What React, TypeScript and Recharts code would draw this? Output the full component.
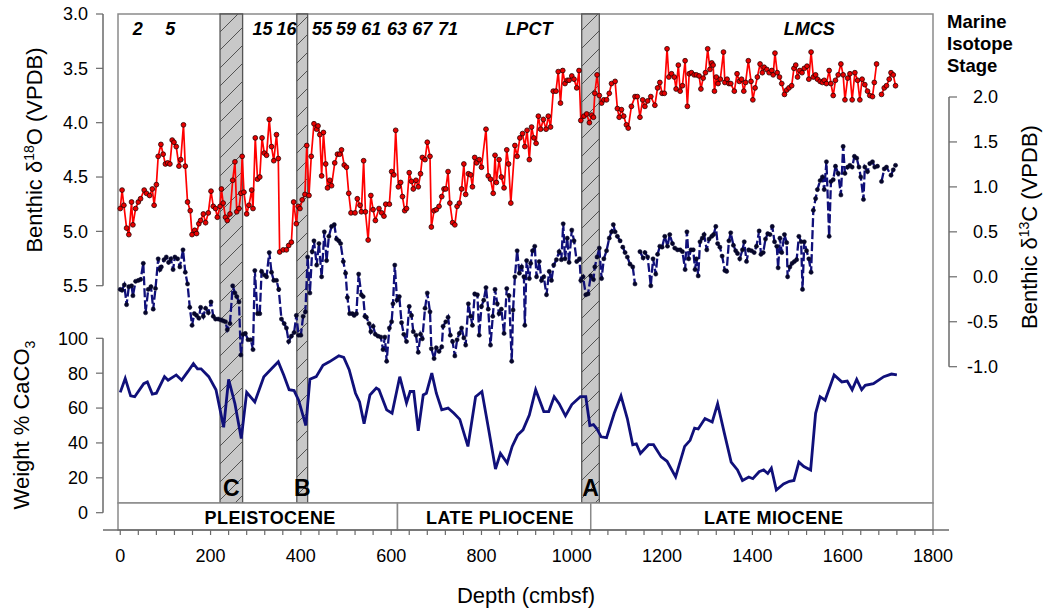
import React from 'react';
import { ComposedChart, Line, XAxis, YAxis, ReferenceArea, Scatter, Label } from 'recharts';

const FONT = '"Liberation Sans", Arial, Helvetica, sans-serif';
const W = 1043;
const H = 613;

// Benthic d18O: [depth cmbsf, value]
const d18O: [number, number | null][] = [
  [0,4.79],[4,4.62],[8,4.76],[14,4.97],[19,5.03],[25,4.73],[28,4.94],[34,4.79],[40,4.73],[45,4.70],[53,4.62],[58,4.65],[65,4.67],[71,4.61],[75,4.76],[80,4.57],[84,4.31],[90,4.20],[95,4.29],[100,4.38],[105,4.37],[110,4.38],[115,4.16],[119,4.18],[124,4.22],[130,4.40],[134,4.34],[140,4.02],[144,4.40],[149,4.73],[155,4.81],[159,5.03],[165,4.99],[169,5.02],[174,4.93],[178,4.90],[184,4.84],[189,4.92],[195,4.83],[201,4.63],[206,4.77],[211,4.79],[215,4.87],[221,4.77],[224,4.61],[228,4.74],[233,4.87],[237,4.90],[243,4.84],[249,4.53],[254,4.36],[258,4.82],[263,4.79],[267,4.65],[270,4.31],[274,4.64],[280,4.84],[285,4.76],[291,4.62],[294,4.79],[299,4.14],[304,4.52],[309,4.50],[314,4.14],[319,4.28],[324,4.30],[330,3.97],[335,4.22],[340,4.35],[346,4.11],[350,4.33],[353,5.19],[361,5.17],[368,5.17],[373,5.13],[379,5.10],[384,4.73],[390,4.93],[394,4.77],[398,4.79],[403,4.71],[409,4.66],[413,4.21],[418,4.67],[423,4.31],[429,4.01],[435,4.06],[438,4.03],[442,4.11],[446,4.49],[450,4.09],[455,4.38],[459,4.60],[464,4.53],[468,4.58],[475,4.37],[481,4.29],[486,4.29],[490,4.25],[496,4.39],[501,4.41],[506,4.65],[511,4.83],[520,4.83],[525,4.70],[531,4.76],[534,4.82],[539,4.35],[543,4.82],[549,5.08],[555,4.67],[560,4.80],[565,4.90],[573,4.79],[579,4.83],[584,4.86],[588,4.75],[596,4.75],[601,4.45],[606,4.48],[610,4.07],[616,4.59],[621,4.55],[625,4.68],[630,4.81],[634,4.79],[640,4.46],[645,4.54],[649,4.61],[655,4.53],[660,4.59],[665,4.47],[669,4.32],[675,4.34],[680,4.18],[686,4.31],[689,4.96],[695,4.81],[700,4.80],[706,4.77],[712,4.68],[717,4.61],[721,4.61],[726,4.45],[730,4.74],[736,4.92],[741,4.94],[746,4.77],[751,4.74],[756,4.61],[761,4.38],[765,4.66],[771,4.47],[776,4.48],[780,4.59],[785,4.32],[789,4.37],[795,4.34],[800,4.41],[810,4.06],[815,4.49],[820,4.52],[826,4.65],[830,4.30],[833,4.55],[839,4.34],[844,4.50],[850,4.60],[856,4.25],[860,4.38],[865,4.74],[874,4.21],[879,4.31],[885,4.14],[891,4.10],[896,4.22],[901,4.07],[906,4.34],[911,4.04],[916,4.14],[921,4.19],[926,3.94],[931,4.06],[937,3.97],[943,4.06],[948,3.94],[953,4.04],[959,3.71],[965,3.71],[970,3.53],[975,3.82],[980,3.52],[985,3.64],[990,3.61],[994,3.61],[1000,3.57],[1005,3.60],[1011,3.68],[1016,3.52],[1020,3.98],[1027,3.94],[1033,3.92],[1039,4.00],[1044,3.93],[1048,3.95],[1051,3.73],[1056,3.56],[1061,3.75],[1066,3.82],[1071,3.79],[1077,3.79],[1083,3.73],[1088,3.64],[1096,3.62],[1101,3.87],[1105,3.95],[1110,3.88],[1115,3.94],[1121,4.02],[1125,4.05],[1132,3.85],[1140,3.76],[1145,3.76],[1151,3.95],[1157,3.79],[1162,3.85],[1168,3.80],[1175,3.76],[1184,3.84],[1190,3.68],[1195,3.63],[1200,3.73],[1205,3.73],[1211,3.32],[1215,3.58],[1221,3.55],[1227,3.58],[1231,3.69],[1236,3.47],[1240,3.71],[1245,3.66],[1251,3.43],[1256,3.85],[1260,3.55],[1265,3.54],[1271,3.56],[1276,3.56],[1282,3.57],[1286,3.69],[1291,3.59],[1296,3.54],[1301,3.32],[1306,3.51],[1310,3.45],[1313,3.47],[1316,3.71],[1320,3.58],[1324,3.64],[1329,3.60],[1336,3.35],[1339,3.63],[1344,3.60],[1348,3.64],[1352,3.64],[1360,3.71],[1366,3.55],[1371,3.62],[1376,3.60],[1381,3.71],[1385,3.63],[1391,3.43],[1397,3.62],[1401,3.79],[1406,3.68],[1411,3.58],[1417,3.46],[1422,3.54],[1426,3.49],[1432,3.51],[1437,3.54],[1443,3.52],[1446,3.56],[1450,3.36],[1455,3.54],[1460,3.58],[1465,3.64],[1471,3.74],[1476,3.70],[1481,3.68],[1487,3.66],[1492,3.50],[1496,3.47],[1500,3.58],[1505,3.52],[1510,3.54],[1515,3.50],[1521,3.48],[1525,3.60],[1530,3.35],[1535,3.58],[1540,3.56],[1544,3.60],[1550,3.62],[1555,3.63],[1559,3.61],[1564,3.64],[1570,3.52],[1574,3.64],[1579,3.75],[1584,3.61],[1590,3.56],[1596,3.46],[1601,3.56],[1605,3.79],[1611,3.59],[1616,3.55],[1621,3.79],[1627,3.54],[1633,3.61],[1638,3.79],[1643,3.60],[1649,3.65],[1655,3.71],[1660,3.75],[1666,3.76],[1670,3.63],[1675,3.46],[1680,null],[1686,3.74],[1692,3.68],[1697,3.66],[1703,3.60],[1707,3.54],[1712,3.56],[1717,3.66],
];

// Benthic d13C: [depth cmbsf, value]
const d13C: [number, number | null][] = [
  [0,-0.14],[4,-0.15],[9,-0.09],[14,-0.31],[19,-0.11],[25,-0.10],[28,-0.21],[34,-0.05],[40,-0.04],[45,-0.03],[51,0.15],[56,-0.40],[62,-0.14],[68,-0.11],[73,-0.36],[78,-0.13],[84,0.20],[88,0.08],[91,0.11],[97,0.19],[102,0.22],[107,0.16],[112,0.20],[117,0.08],[121,0.22],[127,0.20],[132,0.11],[139,0.30],[144,0.05],[149,-0.08],[154,-0.34],[159,-0.54],[164,-0.41],[169,-0.43],[174,-0.46],[178,-0.34],[184,-0.44],[189,-0.35],[195,-0.40],[201,-0.28],[206,-0.44],[211,-0.47],[217,-0.47],[223,-0.48],[228,-0.49],[233,-0.50],[237,-0.59],[243,-0.52],[249,-0.10],[254,-0.18],[258,-0.22],[263,-0.28],[267,-0.87],[272,-0.64],[277,-0.63],[283,-0.70],[289,-0.70],[294,-0.81],[298,0.07],[304,-0.41],[309,-0.41],[313,0.06],[319,0.02],[324,0.00],[330,0.27],[335,0.05],[340,-0.04],[346,-0.04],[351,-0.14],[357,-0.47],[363,-0.52],[368,-0.57],[373,-0.72],[379,-0.66],[385,-0.62],[390,-0.43],[395,-0.65],[400,-0.65],[405,-0.44],[410,-0.39],[415,0.22],[420,-0.18],[425,0.28],[429,0.40],[435,0.13],[440,0.37],[446,0.00],[452,0.50],[457,0.18],[462,0.45],[468,0.56],[474,0.58],[479,0.42],[484,0.40],[488,0.37],[494,0.17],[499,0.04],[503,-0.23],[508,-0.41],[514,-0.41],[518,-0.43],[523,-0.41],[528,0.03],[534,-0.20],[538,-0.22],[542,-0.44],[545,-0.45],[551,-0.52],[555,-0.61],[560,-0.55],[565,-0.64],[571,-0.66],[577,-0.67],[582,-0.81],[586,-0.67],[590,-0.94],[596,-0.57],[601,-0.50],[604,-0.30],[608,0.13],[613,-0.26],[618,-0.22],[623,-0.51],[628,-0.64],[634,-0.72],[640,-0.33],[645,-0.43],[649,-0.61],[655,-0.65],[660,-0.84],[665,-0.64],[669,-0.69],[675,-0.35],[680,-0.18],[686,-0.39],[689,-0.80],[695,-0.91],[700,-0.79],[706,-0.83],[712,-0.78],[715,-0.55],[721,-0.50],[726,-0.45],[731,-0.65],[736,-0.72],[741,-0.88],[746,-0.70],[751,-0.63],[756,-0.57],[761,-0.68],[765,-0.76],[771,-0.30],[776,-0.44],[780,-0.54],[785,-0.19],[791,-0.20],[795,-0.65],[800,-0.33],[805,-0.26],[810,-0.12],[815,-0.36],[820,-0.76],[825,-0.44],[830,-0.14],[835,-0.30],[839,-0.41],[844,-0.36],[850,-0.63],[856,-0.13],[861,-0.21],[867,-0.94],[870,-0.37],[874,0.00],[879,0.29],[884,0.04],[889,0.11],[894,0.00],[896,-0.54],[900,0.18],[906,-0.02],[909,0.15],[913,0.29],[918,0.34],[922,0.00],[928,0.17],[933,-0.04],[938,0.00],[944,-0.20],[950,0.06],[955,-0.04],[960,0.13],[966,0.19],[972,0.28],[977,0.19],[981,0.59],[985,0.20],[990,0.43],[994,0.16],[1000,0.52],[1005,0.40],[1011,0.17],[1017,0.20],[1020,-0.04],[1025,0.00],[1031,-0.20],[1036,-0.19],[1042,0.01],[1048,-0.03],[1051,0.11],[1056,0.22],[1061,0.32],[1066,-0.02],[1071,0.20],[1077,0.29],[1083,0.43],[1088,0.50],[1092,0.58],[1096,0.50],[1101,0.45],[1107,0.40],[1113,0.33],[1118,0.27],[1123,0.22],[1129,0.14],[1135,0.11],[1140,-0.08],[1145,null],[1151,0.28],[1158,0.21],[1162,0.27],[1168,0.22],[1175,-0.10],[1180,0.20],[1186,0.03],[1190,0.25],[1195,0.34],[1200,0.33],[1206,0.45],[1212,0.34],[1217,0.47],[1223,0.37],[1228,0.32],[1234,0.30],[1240,0.30],[1245,0.28],[1251,0.08],[1255,0.50],[1259,0.20],[1264,0.30],[1269,0.30],[1273,0.08],[1276,0.20],[1280,0.01],[1284,0.39],[1289,0.43],[1293,0.47],[1299,0.30],[1304,0.42],[1310,0.45],[1314,0.47],[1319,0.56],[1323,0.37],[1328,0.33],[1333,0.23],[1339,0.07],[1343,0.06],[1348,0.40],[1352,0.49],[1358,0.35],[1363,0.29],[1367,0.26],[1372,0.20],[1378,0.30],[1382,0.39],[1387,0.17],[1392,0.30],[1398,0.29],[1404,0.27],[1409,0.34],[1415,0.51],[1419,0.25],[1424,0.27],[1429,0.42],[1434,0.48],[1439,0.47],[1444,0.56],[1449,0.39],[1454,0.34],[1457,0.10],[1461,0.43],[1465,0.27],[1471,0.47],[1476,0.38],[1478,0.00],[1483,0.11],[1488,0.15],[1493,0.17],[1498,0.19],[1503,0.45],[1508,0.39],[1511,-0.14],[1515,0.39],[1520,0.29],[1525,0.20],[1530,0.05],[1535,0.74],[1540,0.87],[1544,0.97],[1550,1.07],[1555,1.11],[1559,0.97],[1564,1.28],[1570,0.45],[1574,1.06],[1579,1.08],[1584,1.23],[1590,1.15],[1596,0.91],[1601,1.45],[1605,1.15],[1611,1.22],[1616,1.24],[1621,1.22],[1626,1.34],[1631,1.32],[1636,1.22],[1640,1.11],[1646,0.86],[1649,1.22],[1655,1.17],[1660,1.26],[1666,1.28],[1671,1.22],[1677,1.23],[1681,null],[1686,1.06],[1692,1.20],[1697,1.22],[1707,1.13],[1712,1.19],[1717,1.24],
];

// Weight % CaCO3: [depth cmbsf, value]
const caco3: [number, number][] = [
  [0,69],[11,77],[23,67],[32,66.5],[52,74],[60,75],[71,68],[80,68.5],[98,78],[106,76],[124,79],[136,76],[150,81],[162,85.5],[171,82.5],[179,82.5],[196,78],[212,70.5],[229,49],[240,76.5],[254,62.5],[268,42.5],[280,69],[298,63.5],[318,78],[335,82.5],[350,86.5],[362,79],[374,70.5],[385,70],[395,64.5],[411,50],[420,76.5],[434,78],[449,84.5],[463,86.5],[484,90],[495,89],[507,82],[521,68.5],[530,63.5],[540,51],[553,67.5],[567,71.5],[573,70.5],[590,59],[602,57],[619,78],[634,63],[642,69.5],[650,69.5],[660,47],[671,67.5],[678,68.5],[690,80],[700,68.5],[712,59],[726,60],[739,57],[752,53.5],[770,38],[787,66.5],[801,69.5],[816,47.5],[831,25],[842,34],[857,28.5],[868,38],[880,44.5],[892,47.5],[906,56],[920,70.5],[938,58],[949,58],[961,66.5],[972,62.5],[986,55.5],[1000,62],[1019,66.5],[1031,66.5],[1040,50],[1048,50.5],[1056,48],[1065,43.5],[1077,43],[1094,57],[1109,67],[1123,54],[1135,39],[1143,39.5],[1152,34],[1170,39],[1181,39],[1198,32],[1211,29.5],[1230,20.5],[1250,38],[1262,41.5],[1272,48.5],[1280,48],[1295,54],[1311,52],[1323,62.5],[1338,45.5],[1353,29],[1367,24.5],[1378,18.5],[1392,20.5],[1401,19.5],[1415,23.5],[1425,24.5],[1434,22.5],[1442,25.5],[1453,13],[1469,16.5],[1482,18],[1492,18.5],[1503,29],[1514,26.5],[1529,24.5],[1540,57],[1550,66.5],[1561,64.5],[1581,79],[1598,75],[1610,75.5],[1621,70.5],[1631,76.5],[1642,70.5],[1650,73],[1668,74],[1691,78],[1708,79.5],[1720,79],
];

const misLabels = [
  { d: 39, label: '2' }, { d: 111, label: '5' }, { d: 315, label: '15' }, { d: 368, label: '16' },
  { d: 447, label: '55' }, { d: 500, label: '59' }, { d: 556, label: '61' }, { d: 613, label: '63' },
  { d: 669, label: '67' }, { d: 726, label: '71' }, { d: 905, label: 'LPCT' }, { d: 1526, label: 'LMCS' },
];
const bands = [
  { from: 221, to: 271, label: 'C' },
  { from: 391, to: 415, label: 'B' },
  { from: 1022, to: 1061, label: 'A' },
];
const epochs = [
  { from: -5, to: 614, labelAt: 332, label: 'PLEISTOCENE' },
  { from: 614, to: 1042, labelAt: 841, label: 'LATE PLIOCENE' },
  { from: 1042, to: 1800, labelAt: 1447, label: 'LATE MIOCENE' },
];
const depthLabelTicks = [0, 200, 400, 600, 800, 1000, 1200, 1400, 1600, 1800];
const depthMinorStep = 40;
const depthTicks = Array.from({ length: 1800 / depthMinorStep + 1 }, (_, i) => i * depthMinorStep);
const o18Ticks = [3.0, 3.5, 4.0, 4.5, 5.0, 5.5];
const c13Ticks = [-1.0, -0.5, 0.0, 0.5, 1.0, 1.5, 2.0];
const caTicks = [0, 20, 40, 60, 80, 100];

const o18Data = d18O.map(([d, v]) => ({ d, v }));
const c13Data = d13C.map(([d, v]) => ({ d, v }));
const caData = caco3.map(([d, v]) => ({ d, v }));
const misData = misLabels.map((m) => ({ ...m, y: 1 }));
const epochData = epochs.map((e) => ({ d: e.labelAt, y: 0.5, label: e.label }));

const xDomain: [number, number] = [-5, 1800];
const xPad = { left: 15, right: 16 };
const AXIS = '#6a6a6a';
const FRAME = '#8a8a8a';
const NAVY = '#10107a';

const layer: React.CSSProperties = { position: 'absolute', left: 0, top: 0 };

const LeftTitle18 = () => (
  <text x={42} y={150} transform="rotate(-90 42 150)" textAnchor="middle" fontSize={22} fontFamily={FONT} fill="#000">
    Benthic δ<tspan dy={-8} fontSize={14}>18</tspan><tspan dy={8}>O (VPDB)</tspan>
  </text>
);
const LeftTitleCa = () => (
  <text x={29} y={425} transform="rotate(-90 29 425)" textAnchor="middle" fontSize={22} fontFamily={FONT} fill="#000">
    Weight % CaCO<tspan dy={6} fontSize={14}>3</tspan>
  </text>
);
const RightTitles = () => (
  <g fontFamily={FONT} fill="#000">
    <text x={1037} y={227} transform="rotate(-90 1037 227)" textAnchor="middle" fontSize={22}>
      Benthic δ<tspan dy={-8} fontSize={14}>13</tspan><tspan dy={8}>C (VPDB)</tspan>
    </text>
    <text x={947} y={28} fontSize={18.5} fontWeight="bold">Marine</text>
    <text x={947} y={50} fontSize={18.5} fontWeight="bold">Isotope</text>
    <text x={947} y={72} fontSize={18.5} fontWeight="bold">Stage</text>
  </g>
);

const RightTick = (props: any) => (
  <text x={props.x + 39} y={props.y} dy="0.35em" textAnchor="end" fontSize={18} fontFamily={FONT} fill="#000">
    {Number(props.payload.value).toFixed(1)}
  </text>
);

const MisShape = (props: any) => (
  <text x={props.cx} y={props.cy + 21} textAnchor="middle" fontSize={18} fontWeight="bold" fontStyle="italic" fontFamily={FONT} fill="#000">
    {props.payload.label}
  </text>
);
const EpochShape = (props: any) => (
  <text x={props.cx} y={props.cy + 7.5} textAnchor="middle" fontSize={18} fontWeight="bold" fontFamily={FONT} fill="#000" letterSpacing={0.4}>
    {props.payload.label}
  </text>
);

export default function App() {
  return (
    <div style={{ position: 'absolute', left: 0, top: 0, width: W, height: H, background: '#fff', fontFamily: FONT }}>
      <svg width={0} height={0} style={{ position: 'absolute' }}>
        <defs>
          <pattern id="hatch" patternUnits="userSpaceOnUse" width={18} height={18}>
            <rect width={18} height={18} fill="#c8c8c8" />
            <path d="M-2,20 L20,-2" stroke="#333" strokeWidth={0.8} />
          </pattern>
        </defs>
      </svg>

      {/* frame, bands and stage labels */}
      <div style={layer}>
        <ComposedChart width={W} height={H} margin={{ top: 14, bottom: H - 503, left: 103, right: 94 }}>
          <XAxis type="number" dataKey="d" domain={xDomain} padding={xPad} hide allowDataOverflow />
          <YAxis type="number" dataKey="y" domain={[0, 1]} hide />
          <ReferenceArea x1={-5} x2={1800} y1={0} y2={1} fill="none" stroke={FRAME} strokeWidth={1.5} />
          {bands.map((b) => (
            <ReferenceArea
              key={b.label}
              x1={b.from}
              x2={b.to}
              y1={0}
              y2={1}
              fill="url(#hatch)"
              fillOpacity={1}
              stroke="#555"
              strokeWidth={1.3}
              label={{ value: b.label, position: 'insideBottom', offset: 7, fontSize: 23, fontWeight: 'bold', fill: '#000', fontFamily: FONT }}
            />
          ))}
          <Scatter data={misData} dataKey="y" shape={MisShape} isAnimationActive={false} />
        </ComposedChart>
      </div>

      {/* epoch strip and depth axis */}
      <div style={layer}>
        <ComposedChart width={W} height={H} margin={{ top: 503, bottom: H - 530 - 40, left: 103, right: 94 }}>
          <XAxis
            type="number"
            dataKey="d"
            domain={xDomain}
            padding={xPad}
            ticks={depthTicks}
            interval={0}
            tickFormatter={(v: number) => (depthLabelTicks.includes(v) ? String(v) : '')}
            tickSize={5}
            tickMargin={14}
            height={40}
            axisLine={{ stroke: AXIS, strokeWidth: 1.5 }}
            tickLine={{ stroke: AXIS, strokeWidth: 1.2 }}
            tick={{ fontSize: 18, fill: '#000', fontFamily: FONT }}
          >
            <Label
              content={(p: any) => (
                <text x={p.viewBox.x + p.viewBox.width / 2} y={603} textAnchor="middle" fontSize={22} fontFamily={FONT} fill="#000">
                  Depth (cmbsf)
                </text>
              )}
            />
          </XAxis>
          <YAxis type="number" dataKey="y" domain={[0, 1]} hide />
          {epochs.map((e) => (
            <ReferenceArea key={e.label} x1={e.from} x2={e.to} y1={0} y2={1} fill="#fff" fillOpacity={1} stroke={FRAME} strokeWidth={1.5} />
          ))}
          <Scatter data={epochData} dataKey="y" shape={EpochShape} isAnimationActive={false} />
        </ComposedChart>
      </div>

      {/* CaCO3 */}
      <div style={layer}>
        <ComposedChart width={W} height={H} data={caData} margin={{ top: 338.3, bottom: H - 512.7, left: 43, right: 94 }}>
          <XAxis type="number" dataKey="d" domain={xDomain} padding={xPad} hide />
          <YAxis
            type="number"
            domain={[0, 100]}
            ticks={caTicks}
            interval={0}
            width={60}
            tickSize={7}
            tickMargin={8}
            axisLine={{ stroke: AXIS, strokeWidth: 1.5 }}
            tickLine={{ stroke: AXIS, strokeWidth: 1.2 }}
            tick={{ fontSize: 18, fill: '#000', fontFamily: FONT }}
          >
            <Label content={() => <LeftTitleCa />} />
          </YAxis>
          <Line type="linear" dataKey="v" stroke={NAVY} strokeWidth={2.8} dot={false} isAnimationActive={false} />
        </ComposedChart>
      </div>

      {/* d13C */}
      <div style={layer}>
        <ComposedChart width={W} height={H} data={c13Data} margin={{ top: 97, bottom: H - 366.7, left: 103, right: 34 }}>
          <XAxis type="number" dataKey="d" domain={xDomain} padding={xPad} hide />
          <YAxis
            type="number"
            orientation="right"
            domain={[-1, 2]}
            ticks={c13Ticks}
            interval={0}
            width={60}
            tickSize={8}
            tickMargin={2}
            axisLine={{ stroke: AXIS, strokeWidth: 1.5 }}
            tickLine={{ stroke: AXIS, strokeWidth: 1.2 }}
            tick={RightTick}
          >
            <Label content={() => <RightTitles />} />
          </YAxis>
          <Line
            type="linear"
            dataKey="v"
            stroke={NAVY}
            strokeWidth={2.3}
            strokeDasharray="9 3"
            connectNulls={false}
            dot={{ r: 2.1, fill: '#06062a', stroke: '#06062a', strokeWidth: 0.5, strokeDasharray: '0' }}
            isAnimationActive={false}
          />
        </ComposedChart>
      </div>

      {/* d18O */}
      <div style={layer}>
        <ComposedChart width={W} height={H} data={o18Data} margin={{ top: 14, bottom: H - 285.7, left: 43, right: 94 }}>
          <XAxis type="number" dataKey="d" domain={xDomain} padding={xPad} hide />
          <YAxis
            type="number"
            domain={[3, 5.5]}
            reversed
            ticks={o18Ticks}
            interval={0}
            width={60}
            tickSize={7}
            tickMargin={8}
            tickFormatter={(v: number) => v.toFixed(1)}
            axisLine={{ stroke: AXIS, strokeWidth: 1.5 }}
            tickLine={{ stroke: AXIS, strokeWidth: 1.2 }}
            tick={{ fontSize: 18, fill: '#000', fontFamily: FONT }}
          >
            <Label content={() => <LeftTitle18 />} />
          </YAxis>
          <Line
            type="linear"
            dataKey="v"
            stroke="#ff0000"
            strokeWidth={1.7}
            connectNulls={false}
            dot={{ r: 2.4, fill: '#e80000', stroke: '#2a0000', strokeWidth: 0.8 }}
            isAnimationActive={false}
          />
        </ComposedChart>
      </div>
    </div>
  );
}
